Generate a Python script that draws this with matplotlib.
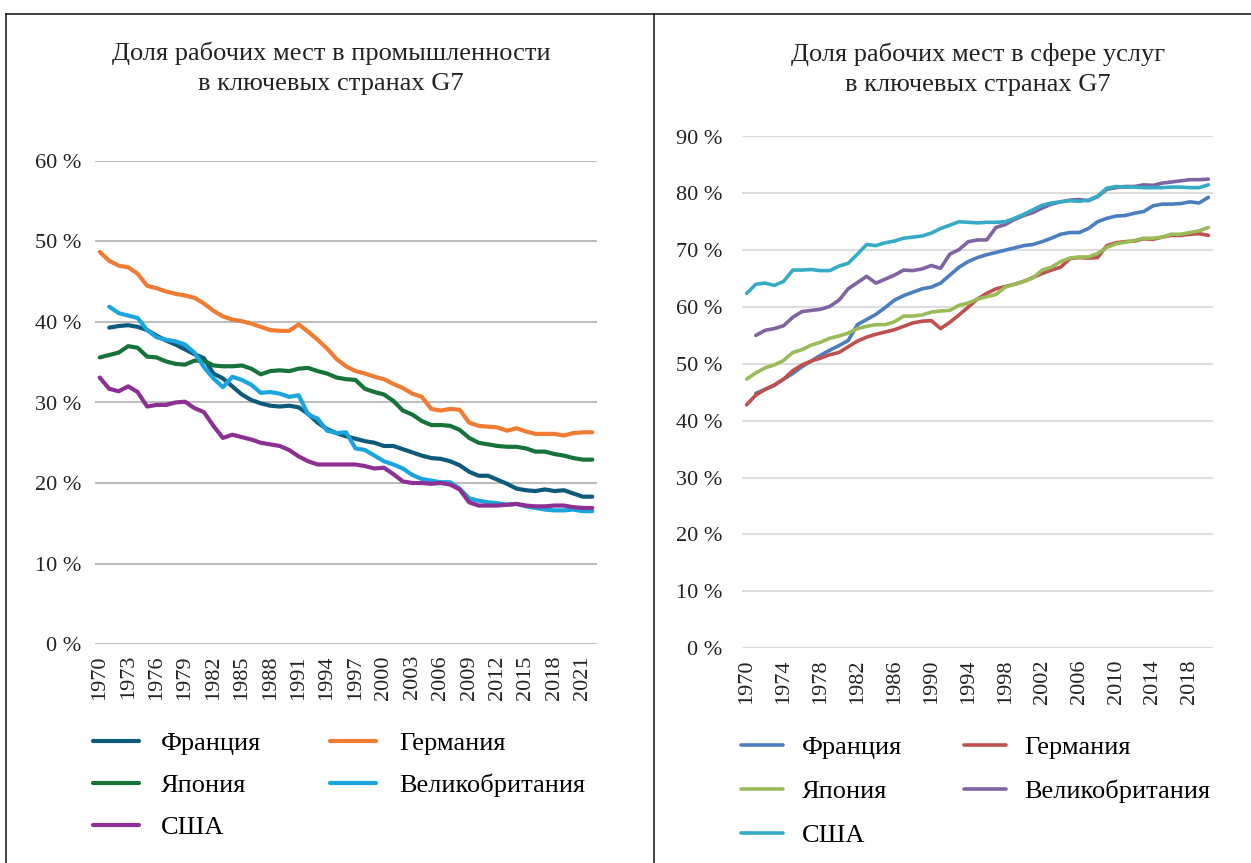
import numpy as np
import matplotlib
matplotlib.use("Agg")
import matplotlib.pyplot as plt
from matplotlib.lines import Line2D

plt.rcParams['font.family'] = ['Liberation Serif', 'DejaVu Serif']

# --- промышленность, 1970-2022 ---
years_ind = list(range(1970, 2023))
ind_france = [np.nan, 39.3, 39.5, 39.6, 39.4, 39.0, 38.3, 37.7, 37.2, 36.6,
              36.0, 35.5, 33.6, 33.0, 32.0, 31.0, 30.3, 29.9, 29.6, 29.5,
              29.6, 29.4, 28.6, 27.5, 26.7, 26.2, 25.8, 25.5, 25.2, 25.0,
              24.6, 24.6, 24.2, 23.8, 23.4, 23.1, 23.0, 22.7, 22.2, 21.4,
              20.9, 20.9, 20.4, 19.9, 19.3, 19.1, 19.0, 19.2, 19.0, 19.1,
              18.7, 18.3, 18.3]
ind_germany = [48.7, 47.6, 47.0, 46.8, 46.0, 44.5, 44.2, 43.8, 43.5, 43.3,
               43.0, 42.3, 41.4, 40.7, 40.3, 40.1, 39.8, 39.4, 39.0, 38.9,
               38.9, 39.7, 38.8, 37.8, 36.7, 35.4, 34.5, 33.9, 33.6, 33.2,
               32.9, 32.3, 31.8, 31.1, 30.7, 29.2, 29.0, 29.2, 29.1, 27.5,
               27.1, 27.0, 26.9, 26.5, 26.8, 26.4, 26.1, 26.1, 26.1, 25.9,
               26.2, 26.3, 26.3]
ind_japan = [35.6, 35.9, 36.2, 37.0, 36.8, 35.7, 35.6, 35.1, 34.8, 34.7,
             35.2, 35.2, 34.6, 34.5, 34.5, 34.6, 34.2, 33.5, 33.9, 34.0,
             33.9, 34.2, 34.3, 33.9, 33.6, 33.1, 32.9, 32.8, 31.7, 31.3,
             31.0, 30.2, 29.0, 28.5, 27.7, 27.2, 27.2, 27.1, 26.6, 25.6,
             25.0, 24.8, 24.6, 24.5, 24.5, 24.3, 23.9, 23.9, 23.6, 23.4,
             23.1, 22.9, 22.9]
ind_uk = [np.nan, 41.9, 41.1, 40.8, 40.5, 39.0, 38.1, 37.8, 37.6, 37.2,
          36.2, 34.4, 33.0, 31.9, 33.2, 32.8, 32.2, 31.2, 31.3, 31.1,
          30.7, 30.9, 28.5, 28.0, 26.5, 26.2, 26.3, 24.3, 24.1, 23.4,
          22.7, 22.3, 21.8, 21.0, 20.5, 20.3, 20.1, 20.1, 19.3, 18.1,
          17.8, 17.6, 17.5, 17.3, 17.4, 17.1, 16.9, 16.7, 16.6, 16.6,
          16.7, 16.5, 16.5]
ind_usa = [33.1, 31.7, 31.4, 32.0, 31.3, 29.5, 29.7, 29.7, 30.0, 30.1,
           29.3, 28.8, 27.1, 25.6, 26.0, 25.7, 25.4, 25.0, 24.8, 24.6,
           24.1, 23.3, 22.7, 22.3, 22.3, 22.3, 22.3, 22.3, 22.1, 21.8,
           21.9, 21.1, 20.2, 20.0, 20.0, 19.9, 20.0, 19.8, 19.2, 17.6,
           17.2, 17.2, 17.2, 17.3, 17.4, 17.2, 17.1, 17.1, 17.2, 17.2,
           17.0, 16.9, 16.9]

# --- услуги, 1970-2020 ---
years_srv = list(range(1970, 2021))
srv_france = [np.nan, 44.8, 45.5, 46.2, 47.3, 48.3, 49.5, 50.5, 51.5, 52.4,
              53.2, 54.1, 56.9, 57.8, 58.7, 59.9, 61.2, 62.0, 62.6, 63.2,
              63.5, 64.2, 65.6, 67.0, 68.0, 68.7, 69.2, 69.6, 70.0, 70.4,
              70.8, 71.0, 71.5, 72.1, 72.8, 73.1, 73.1, 73.8, 75.0, 75.6,
              76.0, 76.1, 76.5, 76.8, 77.8, 78.1, 78.1, 78.2, 78.5, 78.3,
              79.3]
srv_germany = [42.8, 44.5, 45.5, 46.3, 47.3, 48.8, 49.8, 50.5, 51.0, 51.6,
               52.0, 53.0, 54.0, 54.7, 55.2, 55.6, 56.0, 56.6, 57.2, 57.5,
               57.6, 56.2, 57.3, 58.6, 60.0, 61.4, 62.4, 63.2, 63.6, 64.0,
               64.5, 65.2, 65.9, 66.5, 67.0, 68.5, 68.7, 68.6, 68.7, 70.8,
               71.3, 71.5, 71.6, 72.0, 71.9, 72.3, 72.6, 72.6, 72.8, 72.9,
               72.6]
srv_japan = [47.3, 48.4, 49.3, 49.8, 50.6, 52.0, 52.5, 53.3, 53.8, 54.5,
             54.9, 55.4, 56.2, 56.6, 56.9, 56.9, 57.4, 58.4, 58.4, 58.6,
             59.1, 59.3, 59.4, 60.3, 60.7, 61.4, 61.8, 62.2, 63.5, 64.0,
             64.5, 65.1, 66.5, 67.0, 68.0, 68.6, 68.8, 68.8, 69.4, 70.5,
             71.1, 71.4, 71.7, 72.1, 72.1, 72.3, 72.8, 72.8, 73.1, 73.4,
             74.0]
srv_uk = [np.nan, 55.0, 55.9, 56.2, 56.7, 58.2, 59.2, 59.4, 59.6, 60.1,
          61.2, 63.2, 64.3, 65.4, 64.2, 64.9, 65.6, 66.5, 66.4, 66.7,
          67.3, 66.8, 69.3, 70.1, 71.5, 71.8, 71.8, 74.0, 74.5, 75.4,
          76.1, 76.6, 77.4, 78.1, 78.5, 78.8, 78.9, 78.7, 79.4, 80.7,
          81.0, 81.2, 81.2, 81.5, 81.4, 81.8, 82.0, 82.2, 82.4, 82.4,
          82.5]
srv_usa = [62.4, 64.0, 64.2, 63.8, 64.5, 66.5, 66.5, 66.6, 66.4, 66.4,
           67.2, 67.7, 69.3, 71.0, 70.8, 71.3, 71.6, 72.1, 72.3, 72.5,
           73.0, 73.8, 74.4, 75.0, 74.9, 74.8, 74.9, 74.9, 75.0, 75.6,
           76.3, 77.1, 77.9, 78.3, 78.5, 78.7, 78.6, 78.8, 79.5, 80.9,
           81.2, 81.1, 81.1, 81.0, 81.0, 81.0, 81.1, 81.1, 81.0, 81.0,
           81.5]

labels = ['Франция', 'Германия', 'Япония', 'Великобритания', 'США']
colors_ind = ['#0d5a7b', '#f07c33', '#16733a', '#1aa5de', '#8e2f93']
colors_srv = ['#4a7ebf', '#c0504d', '#9bbb59', '#8064a2', '#36abc6']

W, H = 1251, 863
fig = plt.figure(figsize=(W / 100, H / 100), dpi=100)

def fx(px):
    return px / W

def fy(py):
    return 1 - py / H

# frame lines
fig.add_artist(Line2D([fx(6), 1], [fy(14), fy(14)], color='#222222', lw=1.2))
fig.add_artist(Line2D([fx(6), fx(6)], [fy(14), 0], color='#222222', lw=1.2))
fig.add_artist(Line2D([fx(654), fx(654)], [fy(14), 0], color='#222222', lw=1.2))


def setup(ax, years, step, ymax, gridcolor, ypad):
    n = len(years)
    ax.set_xlim(-0.5, n - 0.5)
    ax.set_ylim(0, ymax)
    ax.set_yticks(range(0, ymax + 1, 10))
    ax.set_yticklabels([f'{v} %' for v in range(0, ymax + 1, 10)])
    ax.set_xticks(range(0, n, step))
    ax.set_xticklabels([str(years[i]) for i in range(0, n, step)], rotation=90)
    ax.grid(axis='y', color=gridcolor, lw=1.5)
    ax.set_axisbelow(True)
    for s in ax.spines.values():
        s.set_visible(False)
    ax.tick_params(length=0, labelsize=16, colors='#222222')
    ax.tick_params(axis='y', pad=ypad)
    ax.tick_params(axis='x', pad=8)


# left chart
ax1 = fig.add_axes([fx(95), fy(644), fx(597) - fx(95), fy(161) - fy(644)])
setup(ax1, years_ind, 3, 60, '#bdbdbd', 10)
x1 = np.arange(len(years_ind))
lines1 = []
for data, c, lab in zip([ind_france, ind_germany, ind_japan, ind_uk, ind_usa],
                        colors_ind, labels):
    ln, = ax1.plot(x1, data, color=c, lw=3.0, label=lab, solid_capstyle='round')
    lines1.append(ln)

# right chart
ax2 = fig.add_axes([fx(742), fy(648), fx(1213) - fx(742), fy(136.5) - fy(648)])
setup(ax2, years_srv, 4, 90, '#dddddd', 14)
x2 = np.arange(len(years_srv))
lines2 = []
for data, c, lab in zip([srv_france, srv_germany, srv_japan, srv_uk, srv_usa],
                        colors_srv, labels):
    ln, = ax2.plot(x2, data, color=c, lw=2.6, label=lab, solid_capstyle='round')
    lines2.append(ln)

# titles
fig.text(fx(331), fy(68), 'Доля рабочих мест в промышленности\nв ключевых странах G7',
         ha='center', va='center', fontsize=19, color='#222222', linespacing=1.45)
fig.text(fx(978), fy(69), 'Доля рабочих мест в сфере услуг\nв ключевых странах G7',
         ha='center', va='center', fontsize=19, color='#222222', linespacing=1.45)

order = [0, 2, 4, 1, 3]
fig.legend([lines1[i] for i in order], [labels[i] for i in order],
           loc='upper left', bbox_to_anchor=(fx(69), fy(708)), ncol=2,
           frameon=False, fontsize=19, handlelength=1.75, handletextpad=0.85,
           columnspacing=2.6, labelspacing=0.7)
fig.legend([lines2[i] for i in order], [labels[i] for i in order],
           loc='upper left', bbox_to_anchor=(fx(717), fy(712)), ncol=2,
           frameon=False, fontsize=19, handlelength=1.6, handletextpad=0.7,
           columnspacing=2.35, labelspacing=0.78)

fig.savefig('out.png', dpi=100)
